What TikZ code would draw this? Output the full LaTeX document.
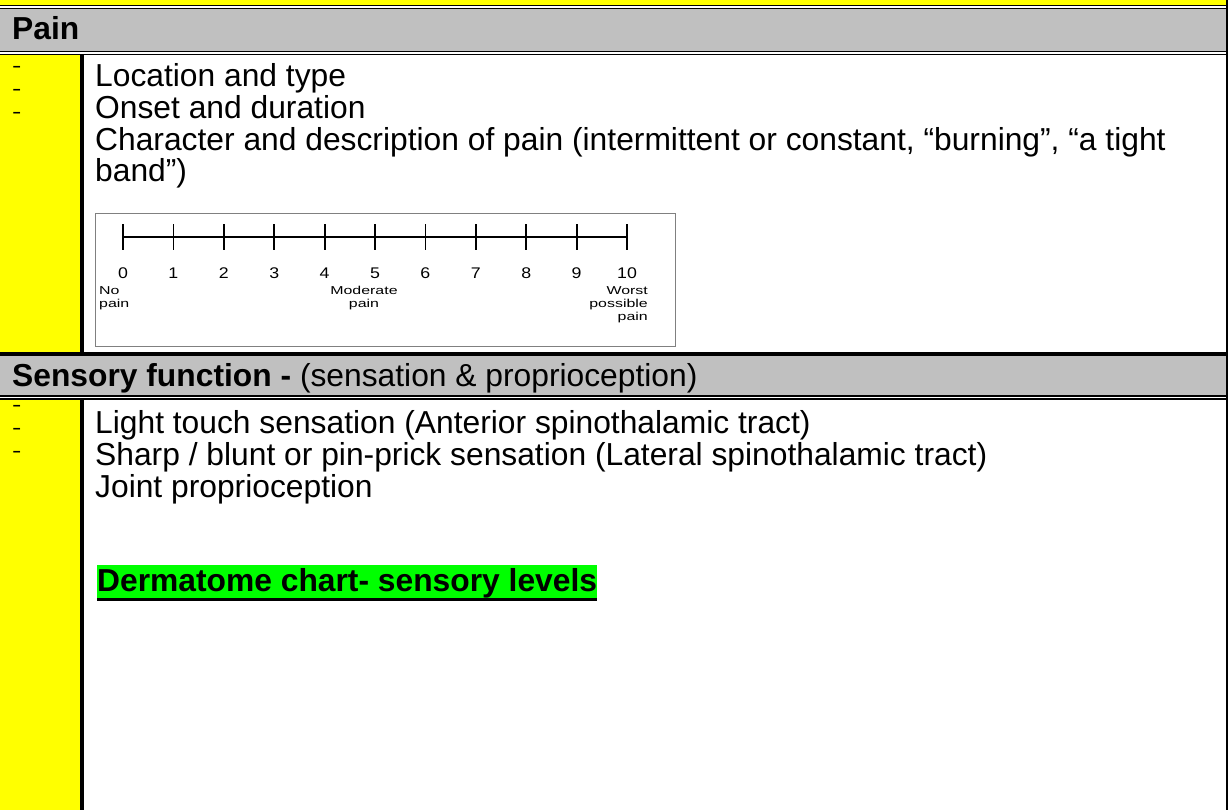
\documentclass[tikz,border=0pt]{standalone}
\usepackage{fontspec}
\setmainfont{Liberation Sans}
\newfontfamily\dashfamily{Liberation Sans}[FakeStretch=1.4]
\newfontfamily\scalefamily{Liberation Sans}[FakeStretch=1.39]
\newfontfamily\numfamily{Liberation Sans}[FakeStretch=1.15]
\definecolor{hlyellow}{RGB}{255,255,0}
\definecolor{hdgrey}{RGB}{192,192,192}
\definecolor{hlgreen}{RGB}{0,255,0}
\definecolor{scalegrey}{RGB}{128,128,128}
\newcommand\bodyfont{\fontsize{31.9}{32}\selectfont}
\newcommand\smallscalefont{\scalefamily\fontsize{11.5}{13}\selectfont}
\newcommand\scalenumfont{\numfamily\fontsize{15.5}{16}\selectfont}
\tikzset{
  bodytext/.style={anchor=base west, inner sep=0pt, font=\bodyfont,
    text height=22bp, text depth=6.5bp},
  headtext/.style={anchor=base west, inner sep=0pt, font=\bodyfont\bfseries,
    text height=22bp, text depth=6.5bp},
  dashmark/.style={anchor=base west, inner sep=0pt,
    font=\dashfamily\fontsize{20}{20}\selectfont,
    text height=8bp, text depth=0pt},
  thinrule/.style={line width=1.3bp},
  scalenum/.style={anchor=base, inner sep=0pt, font=\scalenumfont},
  scalelab/.style={inner sep=0pt, font=\smallscalefont,
    text height=9bp, text depth=2bp},
}
\begin{document}
\begin{tikzpicture}[x=1bp,y=-1bp]
\useasboundingbox (0,0) rectangle (1228,810);
% cell fills
\fill[hlyellow] (0,0) rectangle (1228,5);
\fill[hdgrey] (0,8) rectangle (1228,51);
\fill[hlyellow] (0,55) rectangle (80,352);
\fill[hdgrey] (0,356) rectangle (1228,395);
\fill[hlyellow] (0,400) rectangle (80,810);
% table rules
\draw[thinrule] (0,5.7) -- (1228,5.7);
\draw[thinrule] (0,8.3) -- (1228,8.3);
\draw[thinrule] (0,51.7) -- (1228,51.7);
\draw[thinrule] (0,54.7) -- (1228,54.7);
\draw[line width=4bp] (0,354) -- (1228,354);
\draw[line width=1.6bp] (0,395.8) -- (1228,395.8);
\draw[line width=1.6bp] (0,399.2) -- (1228,399.2);
\draw[line width=4bp] (82,55) -- (82,352);
\draw[line width=4bp] (82,400) -- (82,810);
\draw[line width=2.3bp] (1226.85,0) -- (1226.85,810);

% Pain section
\node[headtext] (painhead) at (12,39.5) {Pain};
\node[dashmark] (pd1) at (12,73) {-};
\node[dashmark] (pd2) at (12,96) {-};
\node[dashmark] (pd3) at (12,119) {-};
\node[bodytext] (p1) at (95,87) {Location and type};
\node[bodytext] (p2) at (95,118.5) {Onset and duration};
\node[bodytext] (p3) at (95,150) {Character and description of pain (intermittent or constant, “burning”, “a tight};
\node[bodytext] (p4) at (95,181.5) {band”)};

% pain rating scale
\draw[scalegrey, line width=1bp] (95.5,213.5) rectangle (675,346);
\coordinate (s0) at (123,237);
\coordinate (s10) at (627,237);
\draw[line width=1.8bp] (s0) -- (s10);
\foreach \i in {0,...,10}{
  \draw[line width=1.8bp] (123+50.4*\i,224) -- (123+50.4*\i,250);
  \node[scalenum] (n\i) at (123+50.4*\i,278) {\i};
}
\node[scalelab, anchor=base west] (lno) at (99,294) {No};
\node[scalelab, anchor=base west] (lnopain) at (99,307) {pain};
\node[scalelab, anchor=base] (lmod) at (364,294) {Moderate};
\node[scalelab, anchor=base] (lmodpain) at (364,307) {pain};
\node[scalelab, anchor=base east] (lworst) at (648,294) {Worst};
\node[scalelab, anchor=base east] (lposs) at (648,307) {possible};
\node[scalelab, anchor=base east] (lworstpain) at (648,320) {pain};

% Sensory function section
\node[headtext] (senshead) at (12,386) {Sensory function - \mdseries(sensation \& proprioception)};
\node[dashmark] (sd1) at (12,411) {-};
\node[dashmark] (sd2) at (12,434) {-};
\node[dashmark] (sd3) at (12,457) {-};
\node[bodytext] (s1) at (95,433) {Light touch sensation (Anterior spinothalamic tract)};
\node[bodytext] (s2) at (95,465) {Sharp / blunt or pin-prick sensation (Lateral spinothalamic tract)};
\node[bodytext] (s3) at (95,497) {Joint proprioception};
\node[headtext, fill=hlgreen, text height=26bp, text depth=7bp, inner xsep=0pt] (derm) at (97,591) {Dermatome chart- sensory levels};
\draw[line width=3bp] ([yshift=-1.5bp]derm.south west) -- ([yshift=-1.5bp]derm.south east);
\end{tikzpicture}
\end{document}
